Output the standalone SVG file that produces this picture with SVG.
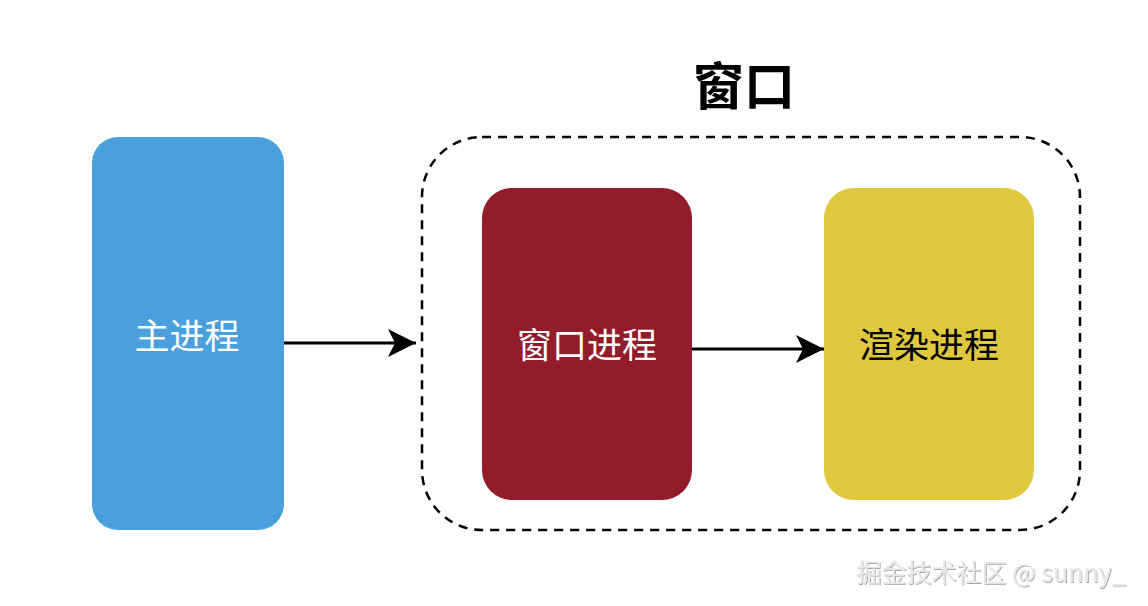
<svg xmlns="http://www.w3.org/2000/svg" width="1148" height="606" viewBox="0 0 1148 606">
<style>
.lbl{font-family:"Noto Sans CJK SC","Noto Sans",sans-serif;font-size:35px;font-weight:normal;text-anchor:middle;dominant-baseline:central}
.conn{stroke:#000;stroke-width:3;fill:none}
</style>
<defs>
<marker id="ah" markerUnits="userSpaceOnUse" markerWidth="30" markerHeight="30" refX="28" refY="14" orient="auto">
<path d="M0,0 L28,14 L0,28 L7,14 Z" fill="#000"/>
</marker>
<filter id="sh" x="-5%" y="-20%" width="110%" height="140%">
<feDropShadow dx="1" dy="1" stdDeviation="0.6" flood-color="#000" flood-opacity="0.35"/>
</filter>
</defs>
<rect width="1148" height="606" fill="#fff"/>
<g id="window-group">
<rect x="422" y="137" width="658" height="393" rx="60" ry="60" fill="none" stroke="#000" stroke-width="2.5" stroke-dasharray="9,7"/>
<text x="744" y="83" font-family="Noto Sans CJK SC,sans-serif" font-size="51" font-weight="bold" text-anchor="middle" dominant-baseline="central">窗口</text>
</g>
<g id="main">
<rect x="92" y="137" width="192" height="393" rx="26" fill="#4A9FDD"/>
<text class="lbl" x="187" y="333" fill="#fff">主进程</text>
</g>
<g id="winproc">
<rect x="482" y="188" width="210" height="312" rx="30" fill="#931C2A"/>
<text class="lbl" x="587" y="342" fill="#fff">窗口进程</text>
</g>
<g id="render">
<rect x="824" y="188" width="210" height="312" rx="30" fill="#DFC83E"/>
<text class="lbl" x="929" y="342" fill="#000">渲染进程</text>
</g>
<g id="connectors">
<line class="conn" x1="284" y1="343" x2="416" y2="343" marker-end="url(#ah)"/>
<line class="conn" x1="692" y1="349" x2="824" y2="349" marker-end="url(#ah)"/>
</g>
<text x="991" y="571" font-family="Noto Sans CJK SC,sans-serif" font-size="25" fill="#e8e8e8" text-anchor="middle" dominant-baseline="central" filter="url(#sh)">掘金技术社区 @ sunny_</text>
</svg>
